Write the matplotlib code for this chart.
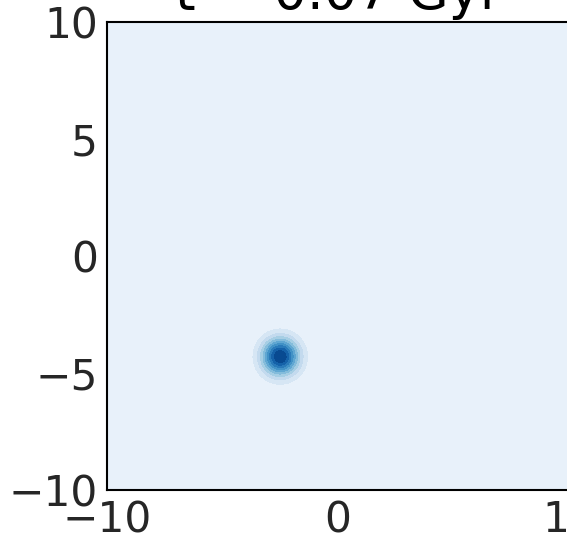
import numpy as np
import matplotlib
matplotlib.use("Agg")
from matplotlib import pyplot as plt
import seaborn as sns

sns.set_style("white")

# single star-forming clump at t = 0.07 Gyr
center_x = -2.5
center_y = -4.3
sigma = 0.55
title = "t = 0.07 Gyr"
x_ticks = [-10, 0, 10]
y_ticks = [-10, -5, 0, 5, 10]

xx, yy = np.meshgrid(np.linspace(-10, 10, 400), np.linspace(-10, 10, 400))
density = np.exp(-((xx - center_x) ** 2 + (yy - center_y) ** 2) / (2 * sigma ** 2))

fig = plt.figure(figsize=(5.67, 5.37), dpi=100)
ax = fig.add_axes([107 / 567, 47 / 537, 462 / 567, 468 / 537])
# shift the norm a bit so the background is a light blue, not white
ax.contourf(xx, yy, density, levels=10, cmap="Blues", vmin=-0.032, vmax=1.06)

ax.set_xlim(-10, 10)
ax.set_ylim(-10, 10)
ax.set_xticks(x_ticks)
ax.set_yticks(y_ticks)
ax.tick_params(labelsize=30.5, colors="#262626", length=0, pad=6.5)
for s in ax.spines.values():
    s.set_color("black")
    s.set_linewidth(1.5)
ax.set_title(title, fontsize=38, color="black", pad=9)

fig.savefig("out.png", dpi=100)
